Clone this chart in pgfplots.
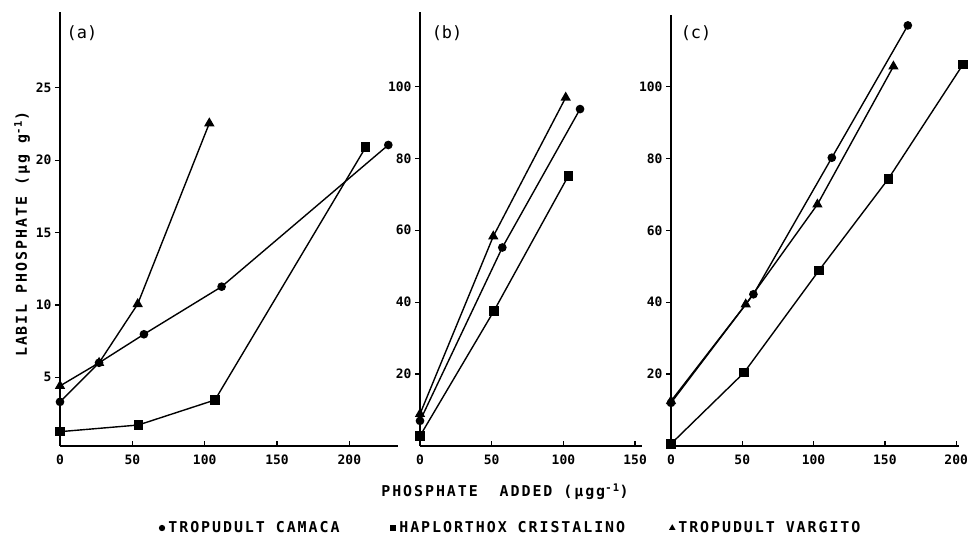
\documentclass[border=0pt]{standalone}
\usepackage{fontspec}
\setmainfont{Liberation Sans}
\newfontfamily\lett[LetterSpace=13]{DejaVu Sans Mono}
\newfontfamily\digits{DejaVu Sans Mono}
\usepackage{pgfplots}
\pgfplotsset{compat=1.18}

\pgfplotsset{
  panel/.style={
    scale only axis,
    anchor=south west,
    axis x line*=bottom,
    axis y line*=left,
    axis line style={line width=1.5bp},
    tick align=outside,
    major tick length=5bp,
    tick style={line width=1.3bp, black},
    xtick style={yshift=5bp},
    ticklabel style={font=\digits\bfseries\fontsize{13}{13}\selectfont},
    /pgf/number format/assume math mode=true,
    clip=false,
    every axis plot/.append style={black, line width=1.4bp},
  },
  camaca/.style={mark=*, mark size=3.6bp, mark options={solid, fill=black}},
  cristal/.style={mark=square*, mark size=4bp, mark options={solid, fill=black}},
  vargito/.style={mark=triangle*, mark size=4.6bp, mark options={solid, fill=black}},
}
\tikzset{plabel/.style={font=\digits\fontsize{17}{17}\selectfont, anchor=center}}

\begin{document}
\begin{tikzpicture}
\useasboundingbox (0,0) rectangle (976bp,541bp);

% (a)
\begin{axis}[panel,
  at={(60bp,95bp)}, width=338bp, height=434bp,
  xmin=0, xmax=233.6, ymin=0.25, ymax=30.24,
  xtick={0,50,100,150,200}, ytick={5,10,15,20,25},
  ylabel={LABIL PHOSPHATE (μg g\textsuperscript{-1})},
  every axis y label/.style={at={(axis description cs:-0.112,0.488)}, rotate=90, anchor=center, font=\lett\bfseries\fontsize{15}{15}\selectfont},
]
\addplot[camaca] coordinates {(0,3.3) (27,6.0) (58,7.97) (111.7,11.26) (226.9,21.05)};
\addplot[cristal] coordinates {(0,1.24) (54.1,1.7) (107.1,3.43) (211.3,20.9)};
\addplot[vargito] coordinates {(0,4.4) (27,6.0) (53.7,10.06) (103.2,22.55)};
\node[plabel] at (axis description cs:0.065,0.952) {(a)};
\end{axis}

% (b)
\begin{axis}[panel,
  at={(420bp,95bp)}, width=222bp, height=434bp,
  xmin=0, xmax=154.8, ymin=0, ymax=120.7,
  xtick={0,50,100,150}, ytick={20,40,60,80,100},
  xlabel={PHOSPHATE\ \ ADDED (μgg\textsuperscript{-1})},
  every axis x label/.style={at={(axis description cs:0.383,-0.106)}, anchor=center, font=\lett\bfseries\fontsize{15}{15}\selectfont},
  legend columns=3,
  legend image code/.code={\draw[#1, only marks, mark size=2.4bp] plot coordinates {(0bp,0bp)};},
  legend style={draw=none, fill=none, at={(0.41,-0.189)}, anchor=center,
    font=\lett\bfseries\fontsize{15}{15}\selectfont,
    /tikz/every odd column/.style={column sep=2bp},
    /tikz/column 2/.style={column sep=49bp},
    /tikz/column 4/.style={column sep=43bp}},
]
\addplot[camaca] coordinates {(0,7.0) (57.4,55.2) (111.6,93.7)};
\addlegendentry{TROPUDULT CAMACA}
\addplot[cristal] coordinates {(0,2.8) (51.6,37.6) (103.4,75.1)};
\addlegendentry{HAPLORTHOX CRISTALINO}
\addplot[vargito] coordinates {(0,8.9) (51.1,58.3) (101.6,96.9)};
\addlegendentry{TROPUDULT VARGITO}
\node[plabel] at (axis description cs:0.122,0.952) {(b)};
\end{axis}

% (c)
\begin{axis}[panel,
  at={(671bp,95bp)}, width=288bp, height=431bp,
  xmin=0, xmax=202, ymin=0, ymax=119.9,
  xtick={0,50,100,150,200}, ytick={20,40,60,80,100},
]
\addplot[camaca] coordinates {(0,12.0) (57.8,42.2) (112.8,80.2) (166.1,117.0)};
\addplot[cristal] coordinates {(0,0.6) (51.2,20.4) (103.9,48.9) (152.4,74.3) (204.7,106.1)};
\addplot[vargito] coordinates {(0,12.5) (52.4,39.4) (102.7,67.2) (156,105.6)};
\node[plabel] at (axis description cs:0.087,0.958) {(c)};
\end{axis}
\end{tikzpicture}
\end{document}
